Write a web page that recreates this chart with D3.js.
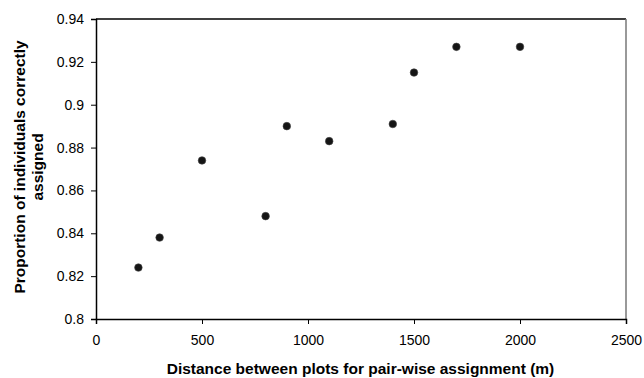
<!DOCTYPE html>
<html>
<head>
<meta charset="utf-8">
<script src="https://cdn.jsdelivr.net/npm/d3@7"></script>
<style>
  body { margin: 0; background: #fff; }
  text { font-family: "Liberation Sans", Arial, sans-serif; fill: #000; }
</style>
</head>
<body>
<div id="chart"></div>
<script>
// distance between plots (m) and proportion correctly assigned
const distances = [200, 300, 500, 800, 900, 1100, 1400, 1500, 1700, 2000];
const proportions = [0.824, 0.838, 0.874, 0.848, 0.890, 0.883, 0.891, 0.915, 0.927, 0.927];
const xTicks = [0, 500, 1000, 1500, 2000, 2500];
const yTicks = [0.8, 0.82, 0.84, 0.86, 0.88, 0.9, 0.92, 0.94];
const yTickLabels = ['0.8', '0.82', '0.84', '0.86', '0.88', '0.9', '0.92', '0.94'];
const xTitle = 'Distance between plots for pair-wise assignment (m)';
const yTitle = ['Proportion of individuals correctly', 'assigned'];

const [w, h] = [644, 378];
const m = { left: 96, right: 18, top: 19, bottom: 59 };

const svg = d3.select('#chart').append('svg')
  .attr('width', w).attr('height', h);

const x = d3.scaleLinear().domain([0, 2500]).range([m.left, w - m.right]);
const y = d3.scaleLinear().domain([0.8, 0.94]).range([h - m.bottom, m.top]);

// plot frame: top black, right grey
svg.append('line')
  .attr('x1', x(0)).attr('x2', x(2500)).attr('y1', y(0.94)).attr('y2', y(0.94))
  .attr('stroke', '#000').attr('stroke-width', 1.5);
svg.append('line')
  .attr('x1', x(2500)).attr('x2', x(2500)).attr('y1', y(0.94)).attr('y2', y(0.8))
  .attr('stroke', '#777').attr('stroke-width', 1.5);

// axes
const xAxis = svg.append('g')
  .attr('transform', `translate(0,${y(0.8)})`)
  .call(d3.axisBottom(x).tickValues(xTicks).tickSize(5).tickPadding(11).tickFormat(d3.format('d')));
const yAxis = svg.append('g')
  .attr('transform', `translate(${x(0)},0)`)
  .call(d3.axisLeft(y).tickValues(yTicks).tickSize(5).tickPadding(7)
    .tickFormat((d, i) => yTickLabels[i]));

[xAxis, yAxis].forEach(g => {
  g.select('.domain').attr('stroke', '#000').attr('stroke-width', 1.5);
  g.selectAll('.tick line').attr('stroke', '#000').attr('stroke-width', 1);
  g.selectAll('.tick text')
    .attr('font-family', '"Liberation Sans", Arial, sans-serif')
    .attr('font-size', '14px').attr('fill', '#000');
});

// points
svg.append('g').selectAll('circle')
  .data(distances)
  .join('circle')
  .attr('cx', d => x(d))
  .attr('cy', (d, i) => y(proportions[i]))
  .attr('r', 3.8)
  .attr('fill', '#151515')
  .attr('stroke', '#444').attr('stroke-width', 0.6);

// axis titles
svg.append('text')
  .attr('x', 360.5).attr('y', 374)
  .attr('text-anchor', 'middle')
  .attr('font-size', '15.5px').attr('font-weight', 'bold')
  .text(xTitle);

svg.append('g')
  .attr('transform', 'translate(0,167) rotate(-90)')
  .selectAll('text')
  .data(yTitle)
  .join('text')
  .attr('x', 0)
  .attr('y', (d, i) => 25 + i * 18)
  .attr('text-anchor', 'middle')
  .attr('font-size', '15.5px').attr('font-weight', 'bold')
  .text(d => d);
</script>
</body>
</html>
